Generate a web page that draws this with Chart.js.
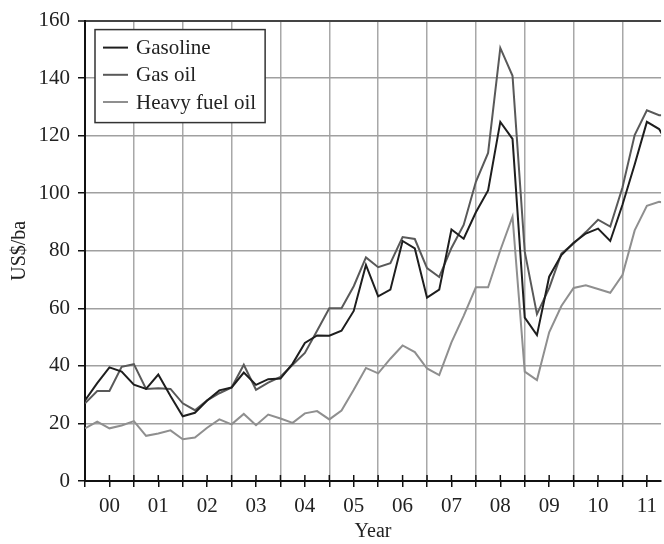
<!DOCTYPE html>
<html>
<head>
<meta charset="utf-8">
<script src="https://cdn.jsdelivr.net/npm/chart.js@4.4.1/dist/chart.umd.min.js"></script>
<style>
    body { margin: 0; background: #fff; }
    #wrap { width: 664px; height: 544px; }
</style>
</head>
<body>
<div id="wrap"><canvas id="priceChart"></canvas></div>
<script>
// Year labels (one per year, quarterly points below)
const years = ['00', '01', '02', '03', '04', '05', '06', '07', '08', '09', '10', '11'];

// Quarterly prices, US$/ba, 2000 Q1 onwards (last value runs past the crop)
const gasoline = [
    28, 34, 39.5, 38, 33.5, 32, 37, 29.5, 22.5, 23.7, 28, 31.5,
    32.5, 37.7, 33.4, 35.4, 35.6, 40.8, 48, 50.6, 50.5, 52.2, 59.1, 75.1,
    64.2, 66.5, 83.4, 80.8, 63.7, 66.5, 87.4, 84.2, 93.4, 101, 124.8, 118.9,
    56.8, 50.7, 71, 78.5, 82.8, 86, 87.7, 83.4, 96, 110, 124.8, 122.3, 115
];
const gasOil = [
    27, 31.3, 31.3, 39.7, 40.6, 32, 32.2, 32, 27, 24.6, 28, 30.5,
    32.5, 40.4, 31.7, 34.2, 36.2, 40.4, 44.5, 52.2, 60, 60, 67.7, 77.7,
    74.3, 75.7, 84.8, 84.1, 74, 70.9, 81, 89, 104, 114, 150.5, 140.8,
    79.7, 58, 67, 79, 82.5, 86.5, 90.8, 88.4, 102, 120.2, 128.8, 127.1, 127
];
const heavyFuelOil = [
    18.3, 20.6, 18.3, 19.3, 20.8, 15.7, 16.5, 17.6, 14.5, 15.1, 18.5, 21.4,
    19.7, 23.3, 19.4, 23.1, 21.7, 20.2, 23.5, 24.3, 21.4, 24.5, 31.7, 39.3,
    37.4, 42.5, 47.1, 44.8, 39.1, 36.8, 48.2, 57.4, 67.3, 67.3, 80.2, 91.9,
    38, 35.1, 51.7, 60.8, 67.1, 68, 66.7, 65.4, 71.6, 87.1, 95.6, 97, 96.6
];

const serif = '"Liberation Serif", "Times New Roman", serif';

// quarter i sits at i/4 years after start of 2000
function toPoints(values) {
    return values.map(function(v, i) { return { x: i / 4, y: v }; });
}

// Boxed legend inside the plot, top left
const boxLegend = {
    id: 'boxLegend',
    afterDatasetsDraw(chart) {
        const ctx = chart.ctx;
        const area = chart.chartArea;
        const left = area.left + 10;
        const top = area.top + 9;
        ctx.save();
        ctx.font = '21px ' + serif;
        let maxW = 0;
        chart.data.datasets.forEach(function(ds) {
            maxW = Math.max(maxW, ctx.measureText(ds.label).width);
        });
        const w = 41 + maxW + 9;
        const h = 93;
        ctx.fillStyle = '#fff';
        ctx.fillRect(left, top, w, h);
        ctx.strokeStyle = '#333';
        ctx.lineWidth = 1.5;
        ctx.strokeRect(left, top, w, h);
        ctx.textBaseline = 'middle';
        ctx.textAlign = 'left';
        chart.data.datasets.forEach(function(ds, i) {
            const y = top + 18 + i * 27.2;
            ctx.strokeStyle = ds.borderColor;
            ctx.lineWidth = 2;
            ctx.beginPath();
            ctx.moveTo(left + 8, y);
            ctx.lineTo(left + 33, y);
            ctx.stroke();
            ctx.fillStyle = '#222';
            ctx.fillText(ds.label, left + 41, y + 1);
        });
        ctx.restore();
    }
};

// Small x tick marks that also cross into the plot
const innerTicks = {
    id: 'innerTicks',
    afterDraw(chart) {
        const ctx = chart.ctx;
        const xs = chart.scales.x;
        const bottom = chart.chartArea.bottom;
        ctx.save();
        ctx.strokeStyle = '#111';
        ctx.lineWidth = 1.5;
        xs.ticks.forEach(function(t) {
            const px = xs.getPixelForValue(t.value);
            ctx.beginPath();
            ctx.moveTo(px, bottom - 6);
            ctx.lineTo(px, bottom);
            ctx.stroke();
        });
        ctx.restore();
    }
};

const chart = new Chart(document.getElementById('priceChart'), {
    type: 'line',
    data: {
        datasets: [
            { label: 'Gasoline', data: toPoints(gasoline), borderColor: '#1e1e1e' },
            { label: 'Gas oil', data: toPoints(gasOil), borderColor: '#595959' },
            { label: 'Heavy fuel oil', data: toPoints(heavyFuelOil), borderColor: '#8f8f8f' }
        ]
    },
    options: {
        responsive: true,
        maintainAspectRatio: false,
        animation: false,
        devicePixelRatio: 1,
        layout: { padding: { top: 14, right: 0, left: 0, bottom: 0 } },
        elements: {
            line: { borderWidth: 2, tension: 0 },
            point: { radius: 0 }
        },
        plugins: {
            legend: { display: false },
            tooltip: { enabled: false }
        },
        scales: {
            x: {
                type: 'linear',
                min: 0,
                max: 11.79,
                afterBuildTicks: function(axis) {
                    const t = [];
                    years.forEach(function(y, i) {
                        t.push({ value: i });
                        t.push({ value: i + 0.5 });
                    });
                    axis.ticks = t;
                },
                afterFit: function(axis) { axis.height = 63; },
                border: { color: '#111', width: 2 },
                grid: {
                    color: function(c) {
                        return (c.tick && c.tick.value % 1 === 0 && c.tick.value > 0) ? '#a8a8a8' : 'rgba(0,0,0,0)';
                    },
                    lineWidth: 1.5,
                    tickColor: '#111',
                    tickLength: 6,
                    tickWidth: 1.5
                },
                ticks: {
                    autoSkip: false,
                    maxRotation: 0,
                    padding: 7,
                    color: '#222',
                    font: { family: serif, size: 21 },
                    callback: function(value) {
                        return value % 1 === 0.5 ? years[Math.floor(value)] : '';
                    }
                },
                title: {
                    display: true,
                    text: 'Year',
                    color: '#222',
                    font: { family: serif, size: 20 },
                    padding: { top: 0, bottom: 0 }
                }
            },
            y: {
                min: 0,
                max: 160,
                afterFit: function(axis) { axis.width = 85; },
                border: { color: '#111', width: 2 },
                grid: {
                    color: function(c) {
                        return c.tick && c.tick.value === 160 ? '#444' : '#a0a0a0';
                    },
                    lineWidth: function(c) {
                        return c.tick && c.tick.value === 160 ? 2 : 1.5;
                    },
                    tickColor: '#111',
                    tickLength: 7,
                    tickWidth: 1.5
                },
                ticks: {
                    stepSize: 20,
                    padding: 8,
                    color: '#222',
                    font: { family: serif, size: 21 }
                },
                title: {
                    display: true,
                    text: 'US$/ba',
                    color: '#222',
                    font: { family: serif, size: 20 },
                    padding: { top: 8, bottom: 8 }
                }
            }
        }
    },
    plugins: [boxLegend, innerTicks]
});
</script>
</body>
</html>
